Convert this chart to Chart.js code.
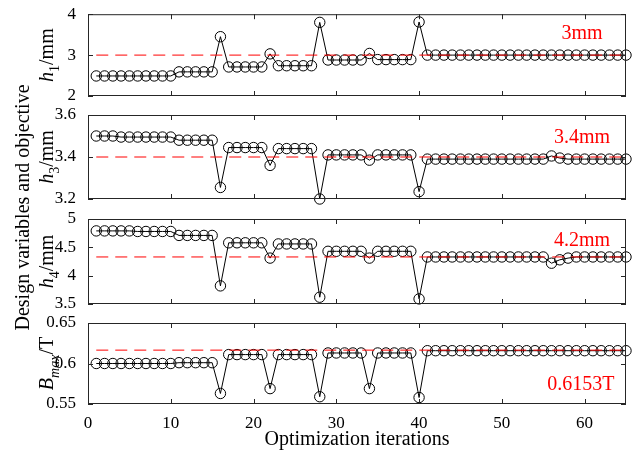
<!DOCTYPE html>
<html>
<head>
<meta charset="utf-8">
<script src="https://cdn.jsdelivr.net/npm/chart.js@4.4.1/dist/chart.umd.min.js"></script>
<style>
  html, body { margin: 0; padding: 0; background: #fff; }
  #wrap { position: relative; width: 637px; height: 452px; }
  #wrap canvas { position: absolute; left: 0; top: 0; }
</style>
</head>
<body>
<div id="wrap">
  <canvas id="p1" width="637" height="452"></canvas>
  <canvas id="p2" width="637" height="452"></canvas>
  <canvas id="p3" width="637" height="452"></canvas>
  <canvas id="p4" width="637" height="452"></canvas>
</div>
<script>
// ============================================
// Datos
// ============================================
const iterations = [
  1, 2, 3, 4, 5, 6, 7, 8, 9, 10, 11, 12, 13, 14, 15, 16, 17, 18, 19, 20,
  21, 22, 23, 24, 25, 26, 27, 28, 29, 30, 31, 32, 33, 34, 35, 36, 37, 38, 39, 40,
  41, 42, 43, 44, 45, 46, 47, 48, 49, 50, 51, 52, 53, 54, 55, 56, 57, 58, 59, 60,
  61, 62, 63, 64, 65
];

const h1 = [
  2.49, 2.49, 2.49, 2.49, 2.49, 2.49, 2.49, 2.49, 2.49, 2.49,
  2.59, 2.59, 2.59, 2.59, 2.59, 3.45, 2.71, 2.71, 2.71, 2.71,
  2.71, 3.03, 2.74, 2.74, 2.74, 2.74, 2.74, 3.80, 2.88, 2.88,
  2.88, 2.88, 2.88, 3.04, 2.89, 2.89, 2.89, 2.89, 2.89, 3.81,
  3.00, 3.00, 3.00, 3.00, 3.00, 3.00, 3.00, 3.00, 3.00, 3.00,
  3.00, 3.00, 3.00, 3.00, 3.00, 3.00, 3.00, 3.00, 3.00, 3.00,
  3.00, 3.00, 3.00, 3.00, 3.00
];

const h3 = [
  3.500, 3.500, 3.500, 3.495, 3.495, 3.495, 3.495, 3.495, 3.495, 3.495,
  3.480, 3.480, 3.480, 3.480, 3.480, 3.255, 3.445, 3.445, 3.445, 3.445,
  3.445, 3.360, 3.440, 3.440, 3.440, 3.440, 3.440, 3.200, 3.410, 3.410,
  3.410, 3.410, 3.410, 3.385, 3.410, 3.410, 3.410, 3.410, 3.410, 3.235,
  3.390, 3.390, 3.390, 3.390, 3.390, 3.390, 3.390, 3.390, 3.390, 3.390,
  3.390, 3.390, 3.390, 3.390, 3.390, 3.405, 3.395, 3.390, 3.390, 3.390,
  3.390, 3.390, 3.390, 3.390, 3.390
];

const h4 = [
  4.79, 4.79, 4.79, 4.79, 4.79, 4.78, 4.78, 4.78, 4.78, 4.78,
  4.71, 4.71, 4.71, 4.71, 4.71, 3.82, 4.58, 4.58, 4.58, 4.58,
  4.58, 4.31, 4.56, 4.56, 4.56, 4.56, 4.56, 3.62, 4.43, 4.43,
  4.43, 4.43, 4.43, 4.31, 4.43, 4.43, 4.43, 4.43, 4.43, 3.59,
  4.33, 4.33, 4.33, 4.33, 4.33, 4.33, 4.33, 4.33, 4.33, 4.33,
  4.33, 4.33, 4.33, 4.33, 4.33, 4.22, 4.28, 4.31, 4.33, 4.33,
  4.33, 4.33, 4.33, 4.33, 4.33
];

const bmax = [
  0.600, 0.600, 0.600, 0.600, 0.600, 0.600, 0.600, 0.600, 0.600, 0.600,
  0.601, 0.601, 0.601, 0.601, 0.601, 0.563, 0.611, 0.611, 0.611, 0.611,
  0.611, 0.569, 0.611, 0.611, 0.611, 0.611, 0.611, 0.559, 0.613, 0.613,
  0.613, 0.613, 0.613, 0.569, 0.613, 0.613, 0.613, 0.613, 0.613, 0.558,
  0.6158, 0.6158, 0.6158, 0.6158, 0.6158, 0.6158, 0.6158, 0.6158, 0.6158, 0.6158,
  0.6158, 0.6158, 0.6158, 0.6158, 0.6158, 0.6158, 0.6158, 0.6158, 0.6158, 0.6158,
  0.6158, 0.6158, 0.6158, 0.6158, 0.6158
];

// líneas de referencia (rojas discontinuas)
const refH1 = 3.0;
const refH3 = 3.4;
const refH4 = 4.33;
const refBmax = 0.6165;

// ticks
const xTicks = [0, 10, 20, 30, 40, 50, 60];
const yTicksH1 = [2, 3, 4];
const yTicksH3 = [3.2, 3.4, 3.6];
const yTicksH4 = [3.5, 4, 4.5, 5];
const yTicksBmax = [0.55, 0.6, 0.65];

// etiquetas rojas
const noteH1 = { text: '3mm', x: 57.2, y: 3.39 };
const noteH3 = { text: '3.4mm', x: 56.3, y: 3.469 };
const noteH4 = { text: '4.2mm', x: 56.3, y: 4.53 };
const noteBmax = { text: '0.6153T', x: 55.5, y: 0.5673 };

const FONT = '"Liberation Serif", "Times New Roman", serif';
const W = 637, H = 452;
const PLOT_LEFT = 88, PLOT_RIGHT = 626;

// =============================
// helpers de dibujo
// =============================
function partFont(p, size) {
  const s = p.sub ? size * 0.7 : size;
  return `${p.it ? 'italic ' : ''}${s}px ${FONT}`;
}

// texto vertical con subíndices, baseline en x, centrado en y
function drawRich(ctx, parts, x, y, size) {
  ctx.save();
  ctx.translate(x, y);
  ctx.rotate(-Math.PI / 2);
  ctx.fillStyle = '#000';
  ctx.textBaseline = 'alphabetic';
  ctx.textAlign = 'left';
  let total = 0;
  parts.forEach(p => { ctx.font = partFont(p, size); total += ctx.measureText(p.t).width; });
  let cur = -total / 2;
  parts.forEach(p => {
    ctx.font = partFont(p, size);
    ctx.fillText(p.t, cur, p.sub ? size * 0.28 : 0);
    cur += ctx.measureText(p.t).width;
  });
  ctx.restore();
}

function makeDeco(cfg) {
  return {
    id: 'deco',
    afterDraw(chart) {
      const ctx = chart.ctx;
      const a = chart.chartArea;
      const xs = chart.scales.x, ys = chart.scales.y;
      ctx.save();
      // caja
      ctx.strokeStyle = '#262626';
      ctx.lineWidth = 1;
      ctx.strokeRect(a.left + 0.5, a.top + 0.5, a.right - a.left - 1, a.bottom - a.top - 1);
      // ticks hacia dentro
      ctx.beginPath();
      xTicks.forEach(v => {
        const px = Math.round(xs.getPixelForValue(v)) + 0.5;
        ctx.moveTo(px, a.bottom); ctx.lineTo(px, a.bottom - 5);
        ctx.moveTo(px, a.top); ctx.lineTo(px, a.top + 5);
      });
      cfg.yTicks.forEach(v => {
        const py = Math.round(ys.getPixelForValue(v)) + 0.5;
        ctx.moveTo(a.left, py); ctx.lineTo(a.left + 5, py);
        ctx.moveTo(a.right, py); ctx.lineTo(a.right - 5, py);
      });
      ctx.stroke();
      // nota roja
      ctx.fillStyle = '#ff0000';
      ctx.font = `20px ${FONT}`;
      ctx.textAlign = 'left';
      ctx.textBaseline = 'alphabetic';
      ctx.fillText(cfg.note.text, xs.getPixelForValue(cfg.note.x), ys.getPixelForValue(cfg.note.y));
      ctx.restore();
      // título del eje y
      drawRich(ctx, cfg.label, 53, (a.top + a.bottom) / 2, 20);
      if (cfg.bigTitle) {
        drawRich(ctx, [{ t: 'Design variables and objective' }], 29, 207.5, 20);
      }
    }
  };
}

function createPanel(cfg) {
  const canvas = document.getElementById(cfg.canvasId);
  const ctx = canvas.getContext('2d');
  const last = !!cfg.showX;

  return new Chart(ctx, {
    type: 'line',
    data: {
      datasets: [
        {
          // referencia
          data: [{ x: iterations[0], y: cfg.ref }, { x: iterations[iterations.length - 1], y: cfg.ref }],
          borderColor: '#ff0000',
          borderWidth: 1,
          borderDash: [12, 7],
          pointRadius: 0,
          clip: false
        },
        {
          data: iterations.map((x, i) => ({ x, y: cfg.values[i] })),
          borderColor: '#000',
          borderWidth: 1,
          pointRadius: 5.2,
          pointBorderWidth: 1,
          pointBorderColor: '#000',
          pointBackgroundColor: 'rgba(0,0,0,0)',
          tension: 0,
          clip: false
        }
      ]
    },
    options: {
      responsive: false,
      animation: false,
      events: [],
      layout: {
        autoPadding: false,
        padding: { left: 0, right: W - PLOT_RIGHT, top: cfg.top, bottom: last ? 0 : H - cfg.bottom }
      },
      plugins: { legend: { display: false }, tooltip: { enabled: false } },
      scales: {
        x: {
          type: 'linear',
          min: 0,
          max: 65,
          display: last,
          grid: { display: false },
          border: { display: false },
          afterBuildTicks: s => { s.ticks = xTicks.map(v => ({ value: v })); },
          afterFit: s => { s.height = last ? H - cfg.bottom : 0; },
          ticks: { color: '#000', font: { family: FONT, size: 17 }, padding: 1, maxRotation: 0 },
          title: {
            display: last,
            text: 'Optimization iterations',
            color: '#000',
            font: { family: FONT, size: 20 },
            padding: { top: 0, bottom: 0 }
          }
        },
        y: {
          type: 'linear',
          min: cfg.yMin,
          max: cfg.yMax,
          grid: { display: false },
          border: { display: false },
          afterBuildTicks: s => { s.ticks = cfg.yTicks.map(v => ({ value: v })); },
          afterFit: s => { s.width = PLOT_LEFT; },
          ticks: {
            color: '#000',
            font: { family: FONT, size: 17 },
            padding: 4,
            callback: v => String(v)
          }
        }
      }
    },
    plugins: [makeDeco(cfg)]
  });
}

createPanel({
  canvasId: 'p1', values: h1, ref: refH1, yMin: 2, yMax: 4, yTicks: yTicksH1,
  top: 11, bottom: 96, note: noteH1,
  label: [{ t: 'h', it: 1 }, { t: '1', sub: 1 }, { t: '/mm' }]
});
createPanel({
  canvasId: 'p2', values: h3, ref: refH3, yMin: 3.2, yMax: 3.6, yTicks: yTicksH3,
  top: 115, bottom: 199, note: noteH3,
  label: [{ t: 'h', it: 1 }, { t: '3', sub: 1 }, { t: '/mm' }]
});
createPanel({
  canvasId: 'p3', values: h4, ref: refH4, yMin: 3.5, yMax: 5, yTicks: yTicksH4,
  top: 219, bottom: 304, note: noteH4,
  label: [{ t: 'h', it: 1 }, { t: '4', sub: 1 }, { t: '/mm' }]
});
createPanel({
  canvasId: 'p4', values: bmax, ref: refBmax, yMin: 0.55, yMax: 0.65, yTicks: yTicksBmax,
  top: 323, bottom: 404, note: noteBmax, showX: true, bigTitle: true,
  label: [{ t: 'B', it: 1 }, { t: 'max', it: 1, sub: 1 }, { t: '/T' }]
});
</script>
</body>
</html>
